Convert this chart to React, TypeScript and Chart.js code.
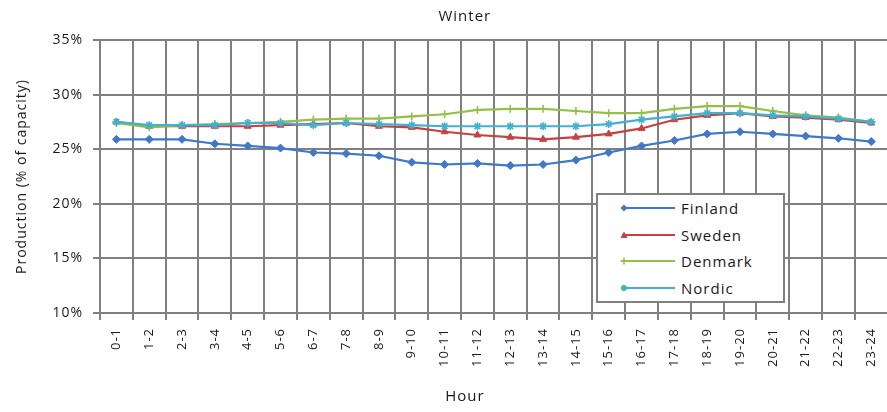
import React, { useEffect, useRef } from "react";
import { Chart, registerables } from "chart.js";

Chart.register(...registerables);

const HOURS = [
  "0-1", "1-2", "2-3", "3-4", "4-5", "5-6", "6-7", "7-8", "8-9", "9-10", "10-11", "11-12",
  "12-13", "13-14", "14-15", "15-16", "16-17", "17-18", "18-19", "19-20", "20-21", "21-22", "22-23", "23-24",
];

const FINLAND = [25.9, 25.9, 25.9, 25.5, 25.3, 25.1, 24.7, 24.6, 24.4, 23.8, 23.6, 23.7, 23.5, 23.6, 24.0, 24.7, 25.3, 25.8, 26.4, 26.6, 26.4, 26.2, 26.0, 25.7];
const SWEDEN = [27.5, 27.1, 27.1, 27.1, 27.1, 27.2, 27.3, 27.4, 27.1, 27.0, 26.6, 26.3, 26.1, 25.9, 26.1, 26.4, 26.9, 27.7, 28.1, 28.3, 28.0, 27.9, 27.7, 27.4];
const DENMARK = [27.4, 27.0, 27.2, 27.3, 27.4, 27.5, 27.7, 27.8, 27.8, 28.0, 28.2, 28.6, 28.7, 28.7, 28.5, 28.3, 28.3, 28.7, 28.95, 28.95, 28.5, 28.1, 27.9, 27.5];
const NORDIC = [27.5, 27.2, 27.2, 27.2, 27.4, 27.4, 27.2, 27.4, 27.3, 27.2, 27.1, 27.1, 27.1, 27.1, 27.1, 27.3, 27.7, 28.0, 28.3, 28.3, 28.1, 28.0, 27.8, 27.5];

const SERIES_NAMES = ["Finland", "Sweden", "Denmark", "Nordic"];
const SERIES_COLORS = ["#3F78C8", "#C4423F", "#97BE4A", "#42B0CE"];
const SERIES_MARKERS = ["rectRot", "triangle", "cross", "star"];

const Y_MIN = 10;
const Y_MAX = 35;
const Y_STEP = 5;

const TITLE = "Winter";
const X_TITLE = "Hour";
const Y_TITLE = "Production (% of capacity)";

const FONT = '"Open Sans", "DejaVu Sans", sans-serif';
const TEXT_COLOR = "#1a1a1a";
const GRID_COLOR = "#808080";

const textPlugin = {
  id: "extraTexts",
  afterInit(chart: any) {
    chart.ctx.letterSpacing = "1px";
  },
  afterDraw(chart: any) {
    const ctx = chart.ctx;
    const cx = chart.chartArea.left + (chart.chartArea.right - chart.chartArea.left) / 2 - 29;
    ctx.save();
    ctx.fillStyle = TEXT_COLOR;
    ctx.textAlign = "center";
    ctx.textBaseline = "middle";
    ctx.font = `15px ${FONT}`;
    ctx.fillText(TITLE, cx, 17);
    ctx.font = `15px ${FONT}`;
    ctx.fillText(X_TITLE, cx, 397);
    ctx.restore();
  },
};

function Marker({ type, color }: { type: string; color: string }) {
  let shape: any = null;
  if (type === "rectRot") shape = <polygon points="4,0.5 7.5,4 4,7.5 0.5,4" fill={color} />;
  else if (type === "triangle") shape = <polygon points="4,0.5 7.5,7 0.5,7" fill={color} />;
  else if (type === "cross")
    shape = (
      <g stroke={color} strokeWidth="1.6">
        <line x1="4" y1="0.5" x2="4" y2="7.5" />
        <line x1="0.5" y1="4" x2="7.5" y2="4" />
      </g>
    );
  else shape = <circle cx="4" cy="4" r="3" fill={color} />;
  return (
    <svg width="8" height="8" style={{ position: "absolute", left: 22, top: 9 }}>
      {shape}
    </svg>
  );
}

export default function App() {
  const canvasRef = useRef<HTMLCanvasElement | null>(null);

  useEffect(() => {
    const canvas = canvasRef.current;
    if (!canvas) return;
    const seriesData = [FINLAND, SWEDEN, DENMARK, NORDIC];
    const chart = new Chart(canvas, {
      type: "line",
      data: {
        labels: HOURS,
        datasets: seriesData.map((d, i) => ({
          label: SERIES_NAMES[i],
          data: d,
          borderColor: SERIES_COLORS[i],
          backgroundColor: SERIES_COLORS[i],
          pointBackgroundColor: SERIES_COLORS[i],
          pointBorderColor: SERIES_COLORS[i],
          pointStyle: SERIES_MARKERS[i] as any,
          pointRadius: 4,
          pointBorderWidth: i >= 2 ? 1.6 : 1,
          borderWidth: 2.2,
          tension: 0,
          fill: false,
          order: 4 - i,
        })),
      },
      options: {
        animation: false,
        responsive: false,
        devicePixelRatio: 1,
        layout: { padding: { top: 40, left: 0, right: 2, bottom: 0 } },
        plugins: {
          legend: { display: false },
          title: { display: false },
          tooltip: { enabled: false },
        },
        scales: {
          x: {
            type: "category",
            offset: true,
            grid: {
              offset: true,
              color: GRID_COLOR,
              lineWidth: 2,
              tickLength: 7,
              drawTicks: true,
            },
            border: { color: GRID_COLOR, width: 2 },
            ticks: {
              autoSkip: false,
              minRotation: 90,
              maxRotation: 90,
              padding: 8,
              color: TEXT_COLOR,
              font: { family: FONT, size: 13 },
            },
            afterFit: (s: any) => {
              s.height = 99;
            },
          },
          y: {
            type: "linear",
            min: Y_MIN,
            max: Y_MAX,
            grid: {
              color: GRID_COLOR,
              lineWidth: 2,
              tickLength: 7,
              drawTicks: true,
            },
            border: { color: GRID_COLOR, width: 2 },
            ticks: {
              stepSize: Y_STEP,
              padding: 10,
              color: TEXT_COLOR,
              font: { family: FONT, size: 14 },
              callback: (v: any) => `${v}%`,
            },
            title: {
              display: true,
              text: Y_TITLE,
              color: TEXT_COLOR,
              font: { family: FONT, size: 14 },
              padding: { top: 14, bottom: 0 },
            },
            afterFit: (s: any) => {
              s.width = 100;
            },
          },
        },
      },
      plugins: [textPlugin],
    });
    return () => chart.destroy();
  }, []);

  return (
    <div
      style={{
        position: "fixed",
        left: 0,
        top: 0,
        width: 887,
        height: 412,
        overflow: "hidden",
        background: "#fff",
      }}
    >
      <canvas ref={canvasRef} width={895} height={412} style={{ display: "block" }} />
      <div
        style={{
          position: "absolute",
          left: 596,
          top: 193,
          width: 185,
          height: 106,
          background: "#fff",
          border: `2px solid ${GRID_COLOR}`,
          fontFamily: FONT,
          fontSize: 15,
          letterSpacing: "1px",
          color: TEXT_COLOR,
        }}
      >
        {SERIES_NAMES.map((name, i) => (
          <div key={name} style={{ position: "relative", height: 26.5 }}>
            <div
              style={{
                position: "absolute",
                left: 24,
                top: 12,
                width: 53,
                height: 2.2,
                background: SERIES_COLORS[i],
              }}
            />
            <Marker type={SERIES_MARKERS[i]} color={SERIES_COLORS[i]} />
            <div style={{ position: "absolute", left: 83, top: 0, lineHeight: "26px", whiteSpace: "nowrap" }}>
              {name}
            </div>
          </div>
        ))}
      </div>
    </div>
  );
}
